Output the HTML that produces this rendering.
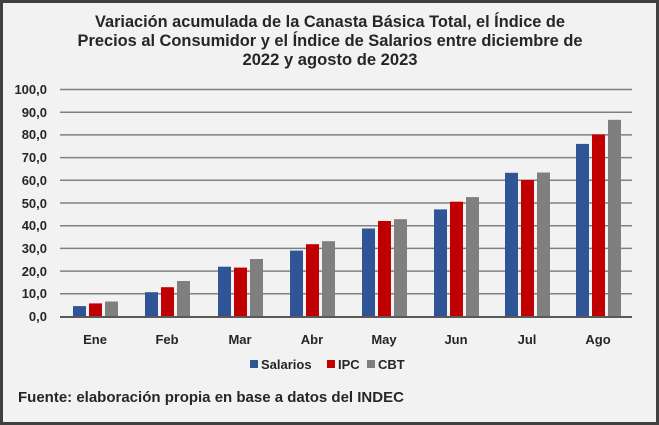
<!DOCTYPE html>
<html><head><meta charset="utf-8"><style>
body{margin:0;background:#fff}
svg{display:block;font-family:"Liberation Sans",sans-serif}
</style></head><body>
<svg width="659" height="425" viewBox="0 0 659 425" xmlns="http://www.w3.org/2000/svg">
<rect x="1.5" y="1.5" width="656" height="422" fill="#f2f2f2" stroke="#404040" stroke-width="3"/>
<g font-weight="bold" fill="#262626" font-size="17" text-anchor="middle">
<text x="330" y="27" textLength="470" lengthAdjust="spacingAndGlyphs">Variación acumulada de la Canasta Básica Total, el Índice de</text>
<text x="330" y="46" textLength="505" lengthAdjust="spacingAndGlyphs">Precios al Consumidor y el Índice de Salarios entre diciembre de</text>
<text x="330" y="65" textLength="175" lengthAdjust="spacingAndGlyphs">2022 y agosto de 2023</text>
</g>
<g stroke="#808080" stroke-width="1.5">
<line x1="60" x2="632" y1="89.5" y2="89.5"/><line x1="60" x2="632" y1="112.2" y2="112.2"/>
<line x1="60" x2="632" y1="134.9" y2="134.9"/><line x1="60" x2="632" y1="157.6" y2="157.6"/>
<line x1="60" x2="632" y1="180.3" y2="180.3"/><line x1="60" x2="632" y1="203" y2="203"/>
<line x1="60" x2="632" y1="225.7" y2="225.7"/><line x1="60" x2="632" y1="248.4" y2="248.4"/>
<line x1="60" x2="632" y1="271.1" y2="271.1"/><line x1="60" x2="632" y1="293.8" y2="293.8"/>
</g>
<g font-weight="bold" font-size="13" fill="#262626" text-anchor="end">
<text x="47" y="94">100,0</text><text x="47" y="117">90,0</text><text x="47" y="139">80,0</text>
<text x="47" y="162">70,0</text><text x="47" y="185">60,0</text><text x="47" y="208">50,0</text>
<text x="47" y="230">40,0</text><text x="47" y="253">30,0</text><text x="47" y="276">20,0</text>
<text x="47" y="298">10,0</text><text x="47" y="321">0,0</text>
</g>
<g fill="#2f5597">
<rect x="73" y="306.1" width="13" height="10.9"/>
<rect x="145" y="292.2" width="13" height="24.8"/>
<rect x="218" y="266.7" width="13" height="50.3"/>
<rect x="290" y="250.6" width="13" height="66.4"/>
<rect x="362" y="228.5" width="13" height="88.5"/>
<rect x="434" y="209.4" width="13" height="107.6"/>
<rect x="505" y="172.8" width="13" height="144.2"/>
<rect x="576" y="143.9" width="13" height="173.1"/>
</g>
<g fill="#c00000">
<rect x="89" y="303.4" width="13" height="13.6"/>
<rect x="161" y="287.2" width="13" height="29.8"/>
<rect x="234" y="267.6" width="13" height="49.4"/>
<rect x="306" y="244.2" width="13" height="72.8"/>
<rect x="378" y="221" width="13" height="96"/>
<rect x="450" y="201.7" width="13" height="115.3"/>
<rect x="521" y="180" width="13" height="137"/>
<rect x="592" y="134.5" width="13" height="182.5"/>
</g>
<g fill="#7f7f7f">
<rect x="105" y="301.5" width="13" height="15.5"/>
<rect x="177" y="281" width="13" height="36"/>
<rect x="250" y="259" width="13" height="58"/>
<rect x="322" y="241.2" width="13" height="75.8"/>
<rect x="394" y="219.2" width="13" height="97.8"/>
<rect x="466" y="197.1" width="13" height="119.9"/>
<rect x="537" y="172.5" width="13" height="144.5"/>
<rect x="608" y="119.8" width="13" height="197.2"/>
</g>
<line x1="60" x2="632" y1="317" y2="317" stroke="#595959" stroke-width="2"/>
<g font-weight="bold" font-size="13" fill="#262626" text-anchor="middle">
<text x="95" y="344">Ene</text><text x="167" y="344">Feb</text><text x="240" y="344">Mar</text>
<text x="312" y="344">Abr</text><text x="384" y="344">May</text><text x="456" y="344">Jun</text>
<text x="527" y="344">Jul</text><text x="598" y="344">Ago</text>
</g>
<g font-weight="bold" font-size="13" fill="#262626">
<rect x="250" y="360" width="8" height="8" fill="#2f5597"/><text x="261" y="369">Salarios</text>
<rect x="327" y="360" width="8" height="8" fill="#c00000"/><text x="338" y="369">IPC</text>
<rect x="367" y="360" width="8" height="8" fill="#7f7f7f"/><text x="378" y="369">CBT</text>
</g>
<text x="18" y="402" font-weight="bold" font-size="15" fill="#262626">Fuente: elaboración propia en base a datos del INDEC</text>
</svg>
</body></html>
